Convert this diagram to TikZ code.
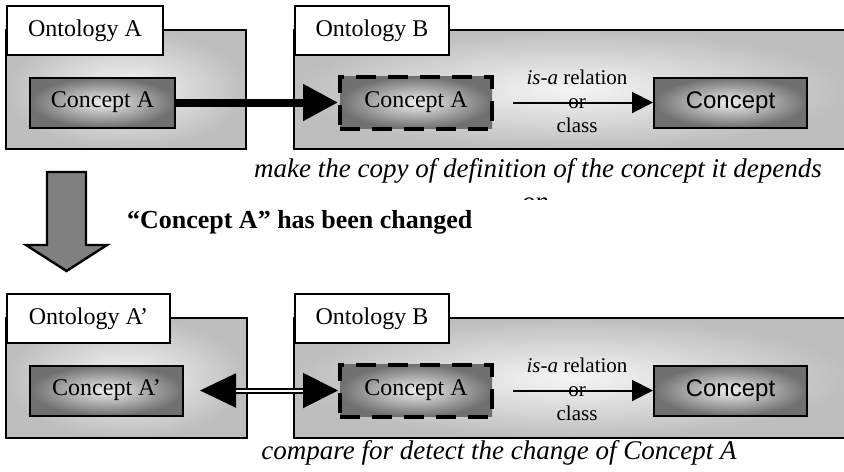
\documentclass[tikz,border=0pt]{standalone}
\usepackage{fontspec}
\setmainfont{Liberation Serif}
\newfontfamily\arialfont{Liberation Sans}
\usetikzlibrary{arrows.meta,calc}
\definecolor{OntoEdgeClr}{RGB}{190,190,190}
\definecolor{OntoMidClr}{RGB}{245,245,245}
\definecolor{ConceptEdgeClr}{RGB}{112,112,112}
\definecolor{ConceptMidClr}{RGB}{238,238,238}
\definecolor{BlockArrowClr}{RGB}{128,128,128}

\begin{document}
\begin{tikzpicture}[x=0.5pt,y=-0.5pt,
  ontobox/.style={draw,line width=1pt,inner color=OntoMidClr,outer color=OntoEdgeClr},
  ontolabel/.style={draw,line width=1pt,fill=white,anchor=north west,minimum height=24.5pt,
    inner sep=0pt,font=\fontsize{12}{14}\selectfont},
  concept/.style={draw,line width=1pt,inner color=ConceptMidClr,outer color=ConceptEdgeClr,
    minimum height=25pt,inner sep=0pt,font=\fontsize{12}{14}\selectfont},
  copied/.style={concept,line width=2pt,dash pattern=on 10pt off 6pt,minimum height=26pt},
  superclass/.style={concept,font=\arialfont\fontsize{12}{14}\selectfont},
  isalabel/.style={align=center,font=\fontsize{10.5}{12}\selectfont},
  note/.style={font=\itshape\fontsize{13.5}{16.5}\selectfont},
  isaarrow/.style={line width=1pt,-{Triangle[length=10.5pt,width=10.5pt]},shorten <=9.5pt}
]
\useasboundingbox (0,0) rectangle (844,471);
\clip (0,0) rectangle (844,471);

\path[ontobox] (6,30) rectangle (246,149);
\path[ontobox] (294,30) rectangle (850,149);
\node[ontolabel,minimum width=78pt] (ontoA) at (6,5) {Ontology A};
\node[ontolabel,minimum width=77pt] (ontoB) at (294,5) {Ontology B};

\node[concept,minimum width=72.5pt] (conceptA) at (102.5,102.5) {Concept A};
\node[copied,minimum width=76pt] (copyA) at (416,102.5) {Concept A};
\node[superclass,minimum width=76.5pt] (superB) at (730.5,102.5) {Concept};
\node[isalabel] (isaB) at (577,101.5) {\textit{is-a} relation\\or\\class};

\draw[line width=4pt,-{Triangle[length=17.5pt,width=17.5pt]}] (conceptA) -- (copyA);
\draw[isaarrow] (copyA) -- (superB);

\node[note] (copynote) at (538,171) {make the copy of definition of the concept it depends};
\begin{scope}
\clip (0,150) rectangle (844,199);
\node[note] (copynoteon) at (535,204) {on};
\end{scope}

\draw[line width=1.2pt,fill=BlockArrowClr] (47,172) -- (86,172) -- (86,245) -- (107,245)
  -- (66.5,271) -- (26,245) -- (47,245) -- cycle;
\node[anchor=west,font=\bfseries\fontsize{13}{15}\selectfont] (changed) at (120,222)
  {“Concept A” has been changed};

\path[ontobox] (6,318) rectangle (247,438);
\path[ontobox] (294,318) rectangle (850,438);
\node[ontolabel,minimum width=81.5pt] (ontoAnew) at (6,293) {Ontology A’};
\node[ontolabel,minimum width=77pt] (ontoBnew) at (294,293) {Ontology B};

\node[concept,minimum width=76.5pt] (conceptAnew) at (106.5,390.5) {Concept A’};
\node[copied,minimum width=76pt] (copyAnew) at (416,390.5) {Concept A};
\node[superclass,minimum width=76.5pt] (superBnew) at (730.5,390.5) {Concept};
\node[isalabel] (isaBnew) at (577,389.5) {\textit{is-a} relation\\or\\class};

\draw[double,line width=1pt,double distance=1pt,
  {Triangle[length=18pt,width=17pt]}-{Triangle[length=17.5pt,width=17.5pt]},shorten <=8pt]
  (conceptAnew) -- (copyAnew);
\draw[isaarrow] (copyAnew) -- (superBnew);

\node[note] (comparenote) at (499,453) {compare for detect the change of Concept A};

\end{tikzpicture}
\end{document}
